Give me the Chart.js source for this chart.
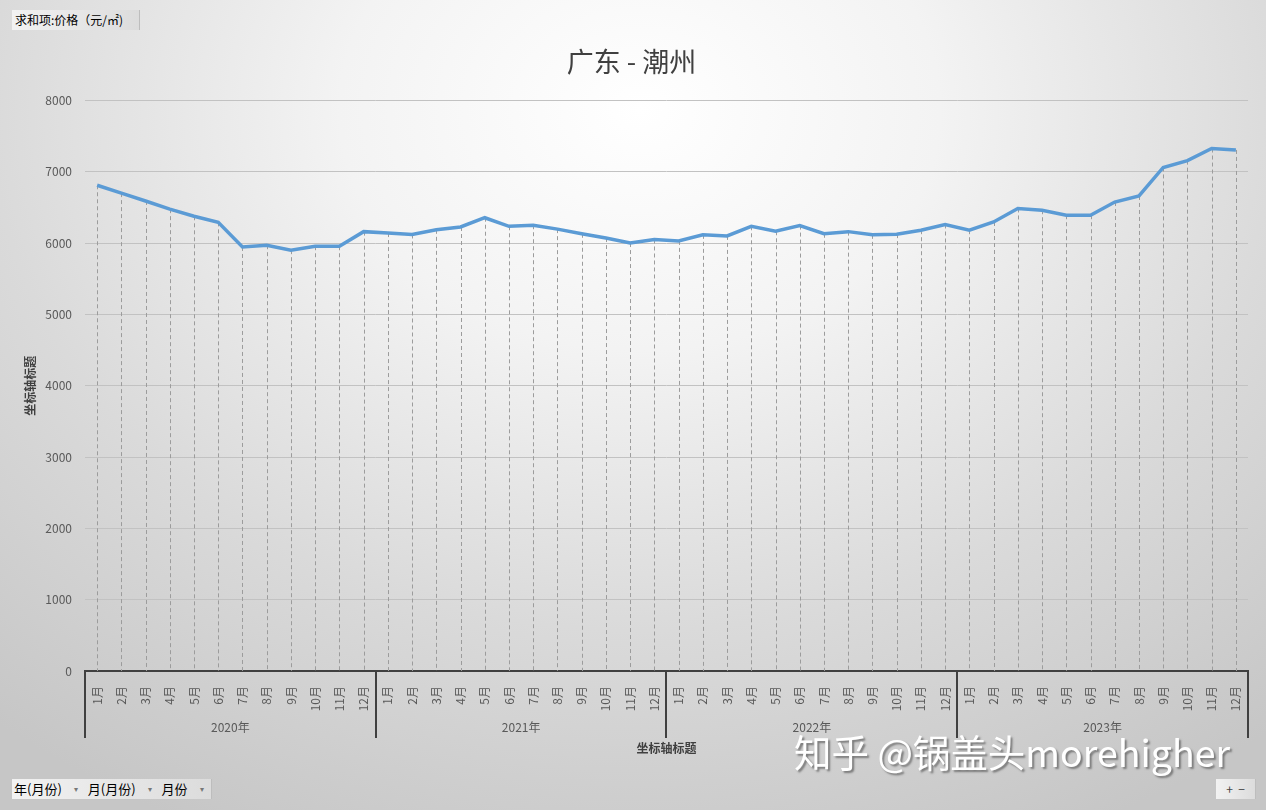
<!DOCTYPE html>
<html lang="zh">
<head>
<meta charset="UTF-8">
<title>广东 - 潮州</title>
<script src="https://cdn.jsdelivr.net/npm/chart.js@4"></script>
<style>
  html, body { margin: 0; padding: 0; }
  body {
    width: 1266px; height: 810px; overflow: hidden; position: relative;
    background: radial-gradient(ellipse 1000px 800px at 640px 110px, #ffffff 0%, #f3f3f3 30%, #dadada 65%, #c6c6c6 100%);
    font-family: "Noto Sans CJK SC", "Noto Sans", sans-serif;
  }
  #wrap { position: absolute; left: 0; top: 0; width: 1266px; height: 810px; }
  .btn {
    position: absolute; height: 20px; line-height: 20px; font-size: 12px; color: #000;
    background: linear-gradient(to right, #f2f2f2, #dcdcdc);
    border-right: 1px solid #bdbdbd; box-sizing: border-box; white-space: nowrap;
  }
  .btn .arr { color: #777; font-size: 8px; margin: 0 10px 0 12px; vertical-align: 2px; }
  #mark {
    position: absolute; left: 794px; top: 723px; font-size: 37.5px; color: #fff; white-space: nowrap;
    text-shadow: 2px 2px 2px #7a7a7a;
  }
</style>
</head>
<body>
<div id="wrap"><canvas id="myChart"></canvas></div>
<div class="btn" style="left:12px; top:10px; width:128px; padding-left:3px;">求和项:价格（元/㎡)</div>
<div class="btn" style="left:12px; top:779px; width:200px; padding-left:2px; font-size:13px;">年(月份)<span class="arr">▾</span>月(月份)<span class="arr">▾</span>月份<span class="arr">▾</span></div>
<div class="btn" style="left:1216px; top:779px; width:40px; text-align:center; color:#444;">+ &nbsp;−</div>
<div id="mark">知乎 @锅盖头morehigher</div>

<script>
    // 月份与年份
    const months = ['1月', '2月', '3月', '4月', '5月', '6月', '7月', '8月', '9月', '10月', '11月', '12月'];
    const years = ['2020年', '2021年', '2022年', '2023年'];
    const yTicks = [0, 1000, 2000, 3000, 4000, 5000, 6000, 7000, 8000];

    // 价格（元/㎡）
    const price2020 = [6810, 6700, 6590, 6475, 6375, 6290, 5945, 5970, 5900, 5955, 5955, 6160];
    const price2021 = [6140, 6120, 6185, 6225, 6355, 6235, 6250, 6195, 6130, 6070, 6000, 6050];
    const price2022 = [6030, 6115, 6100, 6235, 6165, 6245, 6130, 6160, 6115, 6125, 6180, 6260];
    const price2023 = [6180, 6295, 6485, 6460, 6390, 6390, 6575, 6660, 7060, 7155, 7325, 7305];

    const labels = [];
    years.forEach(() => months.forEach(m => labels.push(m)));
    const prices = [...price2020, ...price2021, ...price2022, ...price2023];

    // 垂直虚线（从点到横轴）
    const dropLines = {
        id: 'dropLines',
        beforeDatasetsDraw(chart) {
            const ctx = chart.ctx;
            const meta = chart.getDatasetMeta(0);
            const bottom = chart.scales.y.getPixelForValue(0);
            ctx.save();
            ctx.strokeStyle = '#9c9c9c';
            ctx.lineWidth = 1;
            ctx.setLineDash([4, 3]);
            meta.data.forEach(pt => {
                const x = Math.round(pt.x) + 0.5;
                ctx.beginPath();
                ctx.moveTo(x, pt.y);
                ctx.lineTo(x, bottom);
                ctx.stroke();
            });
            ctx.restore();
        }
    };

    // 年份分组标签与分隔线
    const yearAxis = {
        id: 'yearAxis',
        afterDraw(chart) {
            const ctx = chart.ctx;
            const x = chart.scales.x;
            const top = x.top;
            const lineBottom = top + 67;
            const step = x.getPixelForValue(1) - x.getPixelForValue(0);
            ctx.save();
            ctx.strokeStyle = '#404040';
            ctx.lineWidth = 2;
            for (let g = 0; g <= years.length; g++) {
                const px = Math.round(x.getPixelForValue(g * 12) - step / 2);
                ctx.beginPath();
                ctx.moveTo(px, top);
                ctx.lineTo(px, lineBottom);
                ctx.stroke();
            }
            ctx.fillStyle = '#595959';
            ctx.font = '12px "Noto Sans CJK SC"';
            ctx.textAlign = 'center';
            ctx.textBaseline = 'middle';
            years.forEach((yr, g) => {
                const cx = (x.getPixelForValue(g * 12) + x.getPixelForValue(g * 12 + 11)) / 2;
                ctx.fillText(yr, cx, top + 56);
            });
            ctx.restore();
        }
    };

    const data = {
        labels: labels,
        datasets: [{
            label: '价格',
            data: prices,
            borderColor: '#5B9BD5',
            backgroundColor: '#5B9BD5',
            borderWidth: 3.5,
            pointRadius: 0,
            tension: 0,
            fill: false
        }]
    };

    const config = {
        type: 'line',
        data: data,
        plugins: [dropLines, yearAxis],
        options: {
            responsive: true,
            maintainAspectRatio: false,
            animation: false,
            layout: { padding: { left: 15, right: 18, top: 0, bottom: 49 } },
            plugins: {
                legend: { display: false },
                tooltip: { enabled: false },
                title: {
                    display: true,
                    text: '广东 - 潮州',
                    color: '#404040',
                    font: { family: '"Noto Sans CJK SC"', size: 27, weight: 'normal' },
                    padding: { top: 46, bottom: 22 }
                }
            },
            scales: {
                x: {
                    offset: true,
                    afterFit(axis) { axis.height = 90; },
                    grid: { display: false, drawTicks: false },
                    border: { display: true, color: '#404040', width: 2 },
                    ticks: {
                        autoSkip: false,
                        minRotation: 90,
                        maxRotation: 90,
                        padding: 15,
                        color: '#595959',
                        font: { family: '"Noto Sans CJK SC"', size: 12 }
                    },
                    title: {
                        display: true,
                        text: '坐标轴标题',
                        color: '#404040',
                        font: { family: '"Noto Sans CJK SC"', size: 12, weight: 'bold' },
                        padding: { top: 4, bottom: 5 }
                    }
                },
                y: {
                    min: 0,
                    max: 8000,
                    afterFit(axis) { axis.width = 70; },
                    afterBuildTicks(axis) { axis.ticks = yTicks.map(v => ({ value: v })); },
                    grid: { color: '#c2c2c2', lineWidth: 1, drawTicks: false },
                    border: { display: false },
                    ticks: {
                        padding: 13,
                        color: '#595959',
                        font: { family: '"Noto Sans CJK SC"', size: 12 },
                        callback: v => String(v)
                    },
                    title: {
                        display: true,
                        text: '坐标轴标题',
                        color: '#404040',
                        font: { family: '"Noto Sans CJK SC"', size: 12, weight: 'bold' },
                        padding: { top: 8, bottom: 7 }
                    }
                }
            }
        }
    };

    const myChart = new Chart(document.getElementById('myChart'), config);
</script>
</body>
</html>
